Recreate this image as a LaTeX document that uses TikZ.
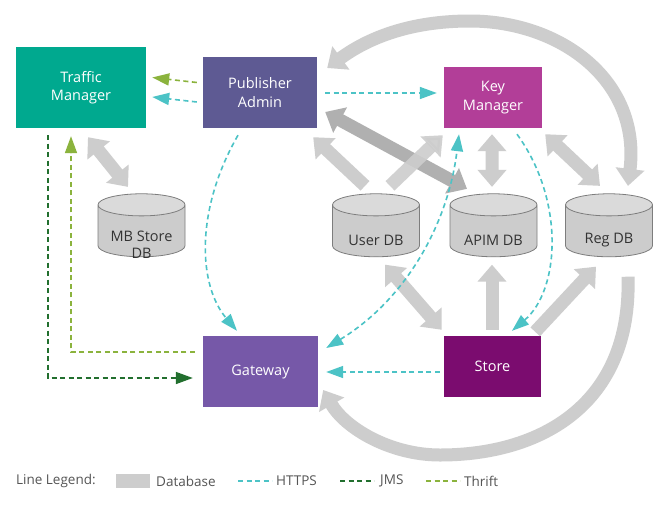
\documentclass[tikz,border=0pt]{standalone}
\usepackage{fontspec}
\setmainfont{Open Sans}
\usetikzlibrary{arrows.meta,shapes.geometric,calc}
\definecolor{tmcol}{HTML}{00A98F}
\definecolor{pacol}{HTML}{5E5A93}
\definecolor{kmcol}{HTML}{B23E98}
\definecolor{gwcol}{HTML}{7658A8}
\definecolor{stcol}{HTML}{7B0C6F}
\definecolor{httpscol}{HTML}{4CC3C6}
\definecolor{jmscol}{HTML}{226F2E}
\definecolor{thriftcol}{HTML}{8BB33D}
\definecolor{arrgray}{HTML}{CDCDCD}
\definecolor{arrdark}{HTML}{B0B0B0}
\definecolor{cylbody}{HTML}{CCCCCC}
\definecolor{cyltop}{HTML}{DADADA}
\definecolor{cylline}{HTML}{7D7D7D}
\definecolor{txtcol}{HTML}{333333}
\definecolor{legcol}{HTML}{555555}
\tikzset{
  box/.style={rectangle, inner sep=0pt, align=center, text=white,
    font=\fontsize{14.5}{18.5}\selectfont},
  db/.style={cylinder, shape border rotate=90, aspect=0.4, draw=cylline, line width=0.8pt,
    cylinder uses custom fill, cylinder body fill=cylbody, cylinder end fill=cyltop,
    minimum width=87pt, minimum height=63pt, inner sep=0pt,
    font=\fontsize{14.5}{17}\selectfont},
  dblabel/.style={inner sep=0pt, align=center, text=txtcol, font=\fontsize{14.5}{16.5}\selectfont},
  dbone/.style={draw=arrgray, line width=13pt, -{Triangle[length=17pt,width=28pt]}},
  dbtwo/.style={draw=arrgray, line width=13pt, {Triangle[length=17pt,width=28pt]}-{Triangle[length=17pt,width=28pt]}},
  proto/.style={line width=1.6pt, dash pattern=on 5pt off 3.5pt, -{Triangle[length=17pt,width=12pt]}},
  https/.style={proto, draw=httpscol},
  jms/.style={proto, draw=jmscol},
  thrift/.style={proto, draw=thriftcol},
  legline/.style={line width=1.6pt, dash pattern=on 5pt off 3.5pt},
  legtext/.style={anchor=west, inner sep=0pt, text=legcol, font=\fontsize{13.5}{16}\selectfont},
}
\begin{document}
\begin{tikzpicture}[x=1pt,y=-1pt]
\useasboundingbox[fill=white] (0,0) rectangle (666,504);
% boxes
\node[box, fill=tmcol, minimum width=130pt, minimum height=81pt] (tm) at (81,87.5) {Traffic\\Manager};
\node[box, fill=pacol, minimum width=114pt, minimum height=71pt] (pa) at (260,92.5) {Publisher\\Admin};
\node[box, fill=kmcol, minimum width=98pt, minimum height=61pt] (km) at (493,97.5) {Key\\Manager};
\node[box, fill=gwcol, minimum width=115pt, minimum height=71pt] (gw) at (260.5,371.5) {Gateway};
\node[box, fill=stcol, minimum width=97pt, minimum height=61pt] (st) at (492.5,366.5) {Store};
% databases
\node[db] (mb) at (141.5,231) {\phantom{User DB}};
\node[db] (user) at (376,231) {\phantom{User DB}};
\node[db] (apim) at (493.5,231) {\phantom{User DB}};
\node[db] (reg) at (609,231) {\phantom{User DB}};
\node[dblabel] (mbt) at ($(mb.center)+(0,13.5)$) {MB Store\\DB};
\node[dblabel] (usert) at ($(user.center)+(0,9.5)$) {User DB};
\node[dblabel] (apimt) at ($(apim.center)+(0,9.5)$) {APIM DB};
\node[dblabel] (regt) at ($(reg.center)+(0,9.5)$) {Reg DB};
% database connectors
\draw[dbtwo] ($(tm.south)+(7,9)$) -- ($(mb.north)+(-13.5,-6.5)$);
\draw[dbtwo, draw=arrdark] ($(pa.east)+(8,19.5)$) -- ($(apim.north)+(-26.5,-4.5)$);
\draw[dbone] ($(user.north)+(-11,-7.5)$) -- ($(pa.south east)+(-4,9)$);
\draw[dbone, opacity=0.9] ($(user.north)+(14,-7.5)$) -- ($(km.south west)+(-1,7)$);
\draw[dbtwo] ($(km.south)+(-1,6)$) -- ($(apim.north)+(-1.5,-6.5)$);
\draw[dbtwo] ($(km.south east)+(3,6)$) -- ($(reg.north)+(-9,-7.5)$);
\draw[dbtwo] ($(reg.north)+(19,-7.5)$) .. controls (641,80) and (560,21) .. (470,21)
   .. controls (410,21) and (368,38) .. ($(pa.east)+(10,-24.5)$);
\draw[dbtwo] ($(user.south)+(9,7.5)$) -- ($(st.north west)+(-2,-6)$);
\draw[dbone] ($(st.north)+(-0.5,-6)$) -- ($(apim.south)+(-1.5,7.5)$);
\draw[dbone] ($(st.north east)+(-6,-4)$) -- ($(reg.south)+(-13,9.5)$);
\draw[dbone] ($(reg.south)+(19,19.5)$) .. controls (632,405) and (540,455) .. (440,455)
   .. controls (390,455) and (345,428) .. ($(gw.east)+(5,18.5)$);
% protocol connectors
\draw[thrift] ($(pa.west)+(-6,-10)$) -- ($(tm.east)+(6,-10)$);
\draw[https] ($(pa.west)+(-6,9.5)$) -- ($(tm.east)+(6,9.5)$);
\draw[https] ($(pa.east)+(8,0.5)$) -- ($(km.west)+(-7,-4.5)$);
\draw[https] ($(pa.south)+(-22,7)$) .. controls (195,210) and (198,285) .. ($(gw.north)+(-23.5,-5)$);
\draw[https, {Triangle[length=17pt,width=12pt]}-{Triangle[length=17pt,width=12pt]}]
   ($(gw.east)+(8,-23.5)$) .. controls (405,300) and (448,225) .. ($(km.south)+(-34,6)$);
\draw[https] ($(km.south)+(24,6)$) .. controls (565,200) and (560,290) .. ($(st.north)+(19.5,-5)$);
\draw[https] ($(st.west)+(-4,5.5)$) -- ($(gw.east)+(8,0.5)$);
\draw[jms] ($(tm.south)+(-33,7)$) |- ($(gw.west)+(-10,6.5)$);
\draw[thrift] ($(gw.west)+(-8,-19.5)$) -| ($(tm.south)+(-10,8)$);
% legend
\node[legtext] (leg) at (16,481) {Line Legend:};
\node[fill=arrgray, minimum width=34pt, minimum height=14pt, inner sep=0pt] (legdb) at (133,481) {};
\node[legtext] (legdbt) at (156,481) {Database};
\coordinate (h1) at (238,481); \coordinate (h2) at (272,481);
\draw[legline, draw=httpscol] (h1) -- (h2);
\node[legtext] (leght) at (276,481) {HTTPS};
\coordinate (j1) at (340,481); \coordinate (j2) at (374,481);
\draw[legline, draw=jmscol] (j1) -- (j2);
\node[legtext] (legjt) at (380,481) {JMS};
\coordinate (t1) at (426,481); \coordinate (t2) at (460,481);
\draw[legline, draw=thriftcol] (t1) -- (t2);
\node[legtext] (legtt) at (464,481) {Thrift};
\end{tikzpicture}
\end{document}
